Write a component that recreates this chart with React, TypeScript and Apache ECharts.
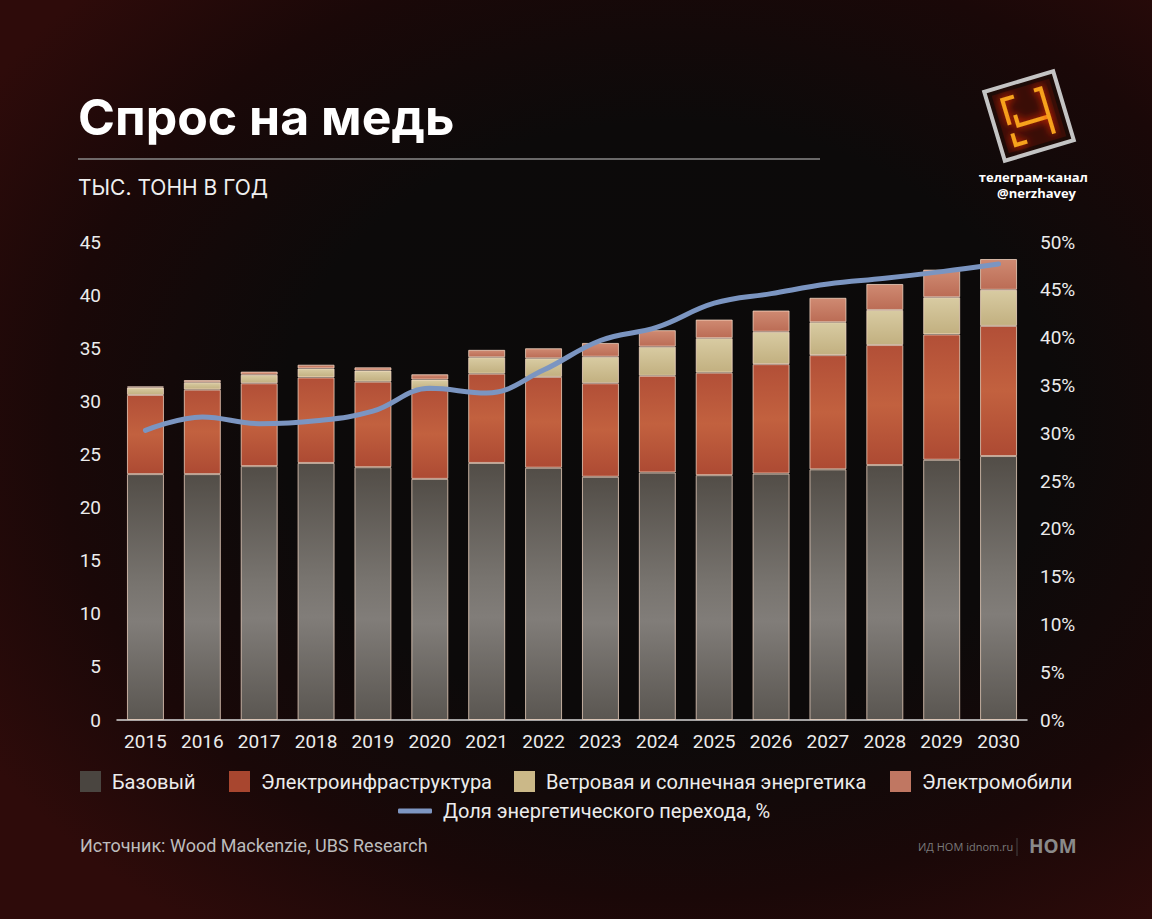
import React, { useEffect, useRef } from "react";
import * as echarts from "echarts";

const years = ["2015", "2016", "2017", "2018", "2019", "2020", "2021", "2022", "2023", "2024", "2025", "2026", "2027", "2028", "2029", "2030"];
const baseDemand = [23.15, 23.15, 23.9, 24.2, 23.8, 22.7, 24.2, 23.75, 22.9, 23.3, 23.05, 23.2, 23.6, 24.0, 24.5, 24.85];
const gridInfra = [7.45, 7.95, 7.8, 8.05, 8.05, 8.4, 8.4, 8.55, 8.8, 9.1, 9.65, 10.3, 10.75, 11.3, 11.8, 12.25];
const windSolar = [0.7, 0.7, 0.8, 0.85, 1.05, 0.95, 1.55, 1.75, 2.5, 2.75, 3.25, 3.05, 3.1, 3.3, 3.5, 3.4];
const electricVehicles = [0.1, 0.2, 0.3, 0.35, 0.3, 0.5, 0.7, 0.95, 1.3, 1.55, 1.75, 2.0, 2.3, 2.45, 2.6, 2.9];
const transitionShare = [30.3, 31.7, 31.0, 31.3, 32.3, 34.7, 34.2, 36.6, 39.7, 41.1, 43.6, 44.6, 45.6, 46.2, 46.9, 47.7];

const leftTicks = { min: 0, max: 45, interval: 5 };
const rightTicks = { min: 0, max: 50, interval: 5 };

const names = {
  base: "Базовый",
  infra: "Электроинфраструктура",
  wind: "Ветровая и солнечная энергетика",
  ev: "Электромобили",
  share: "Доля энергетического перехода, %",
};

export default function App() {
  const ref = useRef<HTMLDivElement>(null);

  useEffect(() => {
    if (!ref.current) return;
    const chart = echarts.init(ref.current, undefined, { renderer: "svg" });
    const LG = echarts.graphic.LinearGradient;
    const border = { borderColor: "rgba(255,226,206,0.7)", borderWidth: 1 };
    const font = "Roboto, 'Noto Sans', sans-serif";
    const barW = 37;

    const legendCommon = {
      top: 771,
      padding: 0,
      itemWidth: 21,
      itemHeight: 21,
      icon: "rect",
      selectedMode: false,
      textStyle: { color: "#ececec", fontSize: 20, fontFamily: font, padding: [0, 0, 0, 6] },
    };
    const flat = (color: string) => ({ color, borderWidth: 0 });

    chart.setOption({
      animation: false,
      backgroundColor: "transparent",
      grid: { left: 117, right: 125, top: 242, bottom: 199, containLabel: false },
      legend: [
        { ...legendCommon, left: 80, data: [{ name: names.base, itemStyle: flat("#4a4540") }] },
        { ...legendCommon, left: 229, data: [{ name: names.infra, itemStyle: flat("#a8462f") }] },
        { ...legendCommon, left: 514, data: [{ name: names.wind, itemStyle: flat("#cbb888") }] },
        { ...legendCommon, left: 890, data: [{ name: names.ev, itemStyle: flat("#c07762") }] },
        {
          ...legendCommon,
          top: 801,
          left: 398,
          itemWidth: 34,
          itemHeight: 5,
          icon: "roundRect",
          data: [{ name: names.share, itemStyle: flat("#7e96c2") }],
        },
      ],
      xAxis: {
        type: "category",
        data: years,
        axisLine: { show: true, lineStyle: { color: "#d6d6d6", width: 1.5 } },
        axisTick: { show: false },
        axisLabel: { color: "#ececec", fontSize: 19, fontFamily: font, margin: 12 },
      },
      yAxis: [
        {
          type: "value",
          ...leftTicks,
          axisLine: { show: false },
          axisTick: { show: false },
          splitLine: { show: false },
          axisLabel: { color: "#ececec", fontSize: 19, fontFamily: font, margin: 16 },
        },
        {
          type: "value",
          ...rightTicks,
          position: "right",
          axisLine: { show: false },
          axisTick: { show: false },
          splitLine: { show: false },
          axisLabel: { color: "#ececec", fontSize: 19, fontFamily: font, margin: 13, formatter: "{value}%" },
        },
      ],
      series: [
        {
          name: names.base,
          type: "bar",
          stack: "demand",
          barWidth: barW,
          data: baseDemand,
          itemStyle: {
            ...border,
            color: new LG(0, 0, 0, 1, [
              { offset: 0, color: "#524d47" },
              { offset: 0.45, color: "#78746f" },
              { offset: 0.6, color: "#817d79" },
              { offset: 1, color: "#5a5651" },
            ]),
          },
        },
        {
          name: names.infra,
          type: "bar",
          stack: "demand",
          barWidth: barW,
          data: gridInfra,
          itemStyle: {
            ...border,
            color: new LG(0, 0, 0, 1, [
              { offset: 0, color: "#b24f37" },
              { offset: 0.5, color: "#c2613f" },
              { offset: 1, color: "#ad4a33" },
            ]),
          },
        },
        {
          name: names.wind,
          type: "bar",
          stack: "demand",
          barWidth: barW,
          data: windSolar,
          itemStyle: {
            ...border,
            color: new LG(0, 0, 0, 1, [
              { offset: 0, color: "#d8cba2" },
              { offset: 1, color: "#c2b080" },
            ]),
          },
        },
        {
          name: names.ev,
          type: "bar",
          stack: "demand",
          barWidth: barW,
          data: electricVehicles,
          itemStyle: {
            ...border,
            color: new LG(0, 0, 0, 1, [
              { offset: 0, color: "#cf8a72" },
              { offset: 1, color: "#bb6c55" },
            ]),
          },
        },
        {
          name: names.share,
          type: "line",
          yAxisIndex: 1,
          data: transitionShare,
          smooth: 0.4,
          symbol: "none",
          z: 5,
          color: "#7b95c1",
          lineStyle: { color: "#7b95c1", width: 5, cap: "round" },
        },
      ],
      graphic: [
        {
          type: "text",
          left: 78,
          top: 92,
          style: { text: "Спрос на медь", fill: "#ffffff", font: "700 50px Inter, 'Open Sans', sans-serif" },
        },
        {
          type: "line",
          shape: { x1: 78, y1: 159, x2: 820, y2: 159 },
          style: { stroke: "#8a8a8a", lineWidth: 1.5 },
        },
        {
          type: "text",
          left: 78,
          top: 177,
          style: { text: "ТЫС. ТОНН В ГОД", fill: "#f0f0f0", font: "400 21px Inter, 'Open Sans', sans-serif" },
        },
        {
          type: "group",
          x: 1029,
          y: 116,
          rotation: 0.29,
          children: [
            {
              type: "rect",
              shape: { x: -36, y: -36, width: 72, height: 72 },
              style: { fill: "#1c0b07", stroke: "#c4c4c4", lineWidth: 4 },
            },
            {
              type: "rect",
              shape: { x: -30, y: -30, width: 60, height: 60 },
              style: { fill: "#3a0d06" },
            },
            {
              type: "polyline",
              shape: { points: [[-9, -23], [-21, -23], [-21, 3]] },
              style: { stroke: "#f7a21b", lineWidth: 4, fill: "none", shadowColor: "#ff2a00", shadowBlur: 8 },
            },
            {
              type: "polyline",
              shape: { points: [[-13, -5], [-13, 6], [19, 6]] },
              style: { stroke: "#f7a21b", lineWidth: 4, fill: "none", shadowColor: "#ff2a00", shadowBlur: 8 },
            },
            {
              type: "polyline",
              shape: { points: [[12, -23], [19, -23], [19, 24]] },
              style: { stroke: "#f7a21b", lineWidth: 4, fill: "none", shadowColor: "#ff2a00", shadowBlur: 8 },
            },
            {
              type: "polyline",
              shape: { points: [[-21, 12], [-21, 24], [-9, 24]] },
              style: { stroke: "#f7a21b", lineWidth: 4, fill: "none", shadowColor: "#ff2a00", shadowBlur: 8 },
            },
          ],
        },
        {
          type: "text",
          right: 1152 - 1088,
          top: 170,
          style: { text: "телеграм-канал", fill: "#ffffff", font: "700 13px 'Open Sans', sans-serif", align: "right" },
        },
        {
          type: "text",
          right: 1152 - 1076,
          top: 186,
          style: { text: "@nerzhavey", fill: "#ffffff", font: "700 13px 'Open Sans', sans-serif", align: "right" },
        },
        {
          type: "text",
          left: 80,
          top: 836,
          style: { text: "Источник: Wood Mackenzie, UBS Research", fill: "#bdbdbd", font: "400 18px Roboto, sans-serif" },
        },
        {
          type: "text",
          left: 918,
          top: 841,
          style: { text: "ИД НОМ idnom.ru", fill: "#7a7a7a", font: "400 11px 'Open Sans', sans-serif" },
        },
        {
          type: "line",
          shape: { x1: 1017, y1: 838, x2: 1017, y2: 856 },
          style: { stroke: "#444444", lineWidth: 1 },
        },
        {
          type: "text",
          left: 1029,
          top: 836,
          style: { text: "НОМ", fill: "#8a8a8a", font: "700 19px 'Open Sans', sans-serif" },
        },
      ],
    });

    return () => chart.dispose();
  }, []);

  return (
    <div
      style={{
        position: "absolute",
        left: 0,
        top: 0,
        width: 1152,
        height: 919,
        background:
          "radial-gradient(ellipse 70% 68% at 58% 46%, #0b0a0a 0%, #0c0a0a 48%, #1a0808 76%, #2e0b0a 100%)",
        overflow: "hidden",
      }}
    >
      <div ref={ref} style={{ width: 1152, height: 919 }} />
    </div>
  );
}
